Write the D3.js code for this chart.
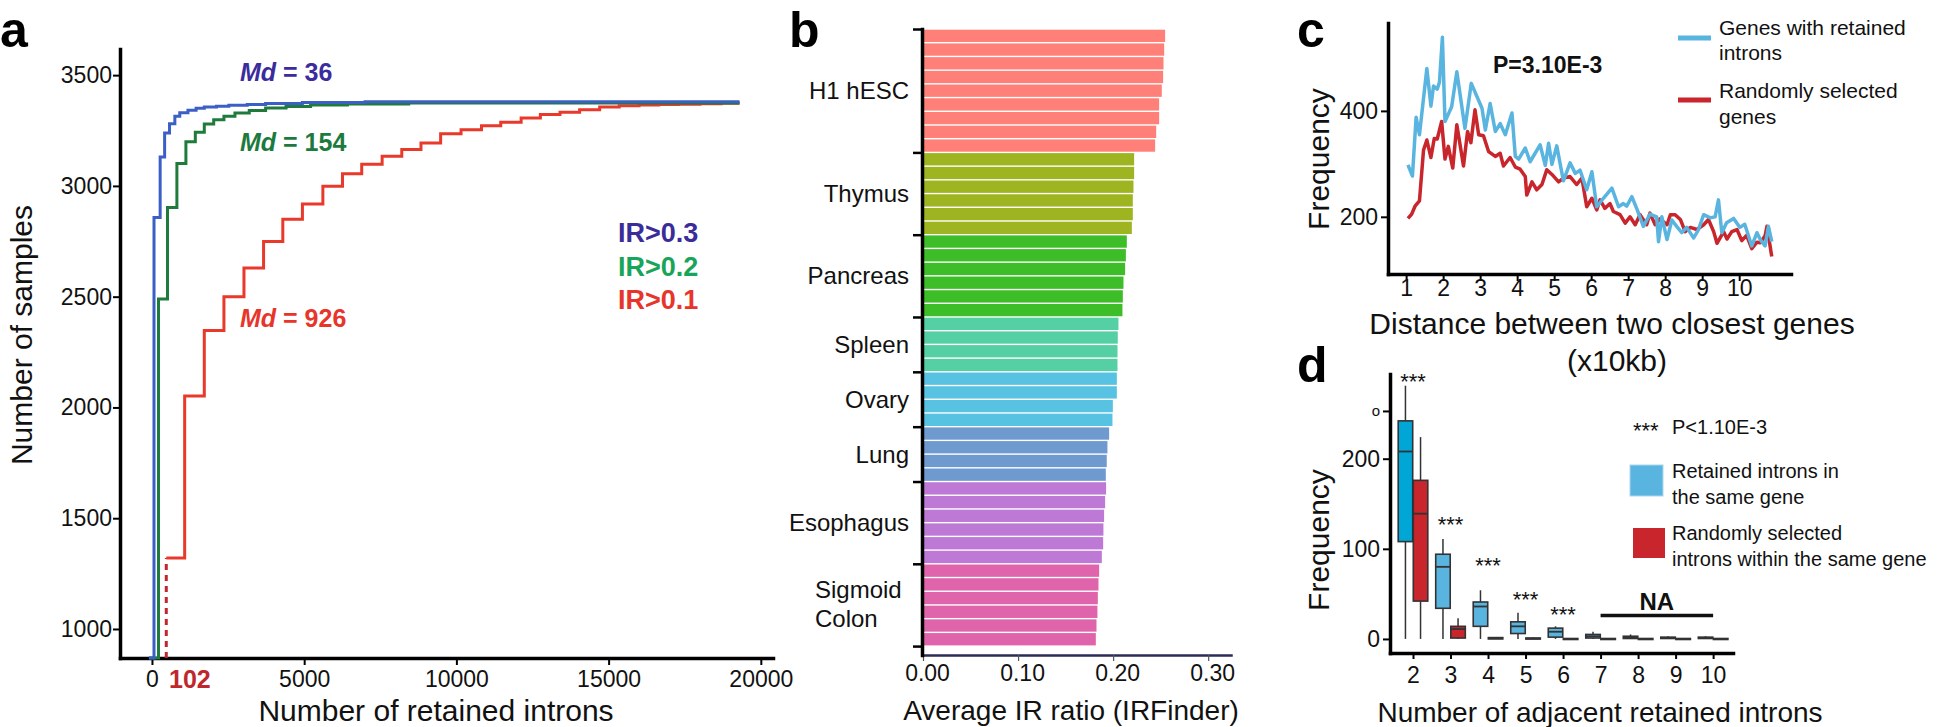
<!doctype html>
<html>
<head>
  <meta charset="utf-8">
  <title>Retained introns - four panels</title>
  <script src="https://cdn.jsdelivr.net/npm/d3@7"></script>
  <style>
    body { margin: 0; background: #fff; }
    svg { display: block; font-family: "Liberation Sans", Arial, Helvetica, sans-serif; }
  </style>
</head>
<body>
<div id="chart"></div>
<script>
  var font = '"Liberation Sans", Arial, Helvetica, sans-serif';

  // ---- panel a: cumulative steps (number of retained introns vs samples)
  var aXTicks = [0, 5000, 10000, 15000, 20000];
  var aYTicks = [1000, 1500, 2000, 2500, 3000, 3500];
  var ir03X = [-100, 67, 269, 416, 577, 752, 913, 1182, 1450, 1719, 2120, 2525, 3130, 3733, 4940, 7000, 19300];
  var ir03Y = [869, 2857, 3131, 3239, 3281, 3314, 3330, 3342, 3350, 3356, 3360, 3364, 3368, 3372, 3376, 3380, 3380];
  var ir02X = [-100, 215, 510, 819, 1115, 1424, 1719, 2028, 2364, 2726, 3196, 3733, 4405, 5211, 6420, 8434, 19300];
  var ir02Y = [869, 2490, 2902, 3101, 3199, 3242, 3280, 3299, 3314, 3329, 3340, 3352, 3359, 3365, 3370, 3374, 3374];
  var ir01X = [470, 1074, 1719, 2364, 3022, 3666, 4298, 4942, 5614, 6258, 6890, 7561, 8206, 8837, 9482, 10153,
               10825, 11456, 12127, 12759, 13403, 14048, 14706, 15350, 16000, 16650, 17300, 18000, 18700, 19300];
  var ir01Y = [1320, 2052, 2347, 2500, 2630, 2749, 2849, 2918, 2999, 3055, 3098, 3134, 3164, 3194, 3235, 3254,
               3272, 3287, 3307, 3322, 3332, 3344, 3356, 3362, 3365, 3367, 3369, 3371, 3373, 3373];
  var irNames = ['IR>0.3', 'IR>0.2', 'IR>0.1'];
  var irMedians = [36, 154, 926];

  // ---- panel b: average IR ratio per sample, grouped by tissue
  var tissues = ['H1 hESC', 'Thymus', 'Pancreas', 'Spleen', 'Ovary', 'Lung', 'Esophagus', 'Sigmoid Colon'];
  var tissueColors = ['#ff8078', '#9fb421', '#3dbd27', '#55d0a5', '#58c2e2', '#6f9ad0', '#bd79d5', '#e064ab'];
  var irRatios = [
    [0.2547, 0.2537, 0.2530, 0.2526, 0.2512, 0.2484, 0.2484, 0.2453, 0.2442],
    [0.2221, 0.2221, 0.2214, 0.2207, 0.2207, 0.2197],
    [0.2144, 0.2134, 0.2126, 0.2109, 0.2102, 0.2098],
    [0.2056, 0.2049, 0.2046, 0.2046],
    [0.2039, 0.2039, 0.1997, 0.1993],
    [0.1958, 0.1940, 0.1933, 0.1923],
    [0.1926, 0.1916, 0.1905, 0.1898, 0.1895, 0.1881],
    [0.1853, 0.1846, 0.1839, 0.1835, 0.1825, 0.1818]
  ];
  var bXTicks = [0, 0.1, 0.2, 0.3];

  // ---- panel c: distance between two closest genes
  var riDist = [1.05, 1.17, 1.27, 1.36, 1.56, 1.67, 1.74, 1.84, 1.90, 1.98, 2.05, 2.23, 2.37, 2.59, 2.76, 3.05,
                3.14, 3.27, 3.41, 3.54, 3.68, 3.86, 3.95, 4.04, 4.22, 4.35, 4.62, 4.76, 4.85, 4.94, 5.07, 5.25,
                5.43, 5.57, 5.70, 5.88, 6.02, 6.15, 6.33, 6.56, 6.74, 6.87, 6.96, 7.10, 7.24, 7.41, 7.59, 7.77,
                7.82, 7.91, 8.05, 8.18, 8.31, 8.45, 8.58, 8.77, 8.90, 9.04, 9.22, 9.35, 9.44, 9.53, 9.66, 9.85,
                10.02, 10.15, 10.34, 10.48, 10.57, 10.70, 10.79, 10.88];
  var riFreq = [298, 277, 388, 355, 480, 409, 447, 441, 454, 539, 380, 408, 474, 367, 452, 405,
                364, 414, 361, 376, 355, 396, 314, 309, 330, 304, 336, 297, 339, 299, 334, 268,
                302, 282, 288, 251, 285, 219, 235, 254, 219, 225, 220, 238, 214, 182, 205, 200,
                153, 200, 157, 194, 182, 170, 180, 160, 176, 204, 198, 200, 232, 170, 189, 197,
                180, 186, 145, 170, 157, 145, 182, 153];
  var rndDist = [1.05, 1.15, 1.24, 1.36, 1.47, 1.56, 1.67, 1.76, 1.84, 1.96, 2.05, 2.14, 2.26, 2.37, 2.55, 2.66,
                 2.75, 2.86, 2.96, 3.09, 3.23, 3.41, 3.54, 3.63, 3.81, 3.95, 4.08, 4.22, 4.26, 4.40, 4.53, 4.67,
                 4.80, 4.94, 5.12, 5.25, 5.43, 5.61, 5.75, 5.88, 6.02, 6.15, 6.24, 6.37, 6.51, 6.60, 6.78, 6.92,
                 7.05, 7.19, 7.32, 7.50, 7.59, 7.73, 7.86, 8.05, 8.14, 8.27, 8.41, 8.54, 8.68, 8.86, 9.04, 9.17,
                 9.31, 9.40, 9.58, 9.67, 9.80, 9.94, 10.07, 10.20, 10.34, 10.48, 10.57, 10.70, 10.75, 10.88];
  var rndFreq = [197, 205, 220, 230, 326, 345, 312, 348, 347, 380, 309, 333, 292, 374, 296, 361,
                 340, 402, 355, 353, 323, 314, 320, 296, 312, 294, 290, 276, 241, 266, 251, 261,
                 289, 280, 266, 273, 276, 261, 273, 219, 235, 213, 232, 216, 225, 210, 204, 188,
                 200, 185, 204, 185, 207, 185, 196, 185, 204, 204, 195, 172, 180, 176, 185, 195,
                 172, 150, 172, 158, 172, 176, 155, 165, 140, 152, 151, 164, 182, 125];
  var cXTicks = [1, 2, 3, 4, 5, 6, 7, 8, 9, 10];
  var cYTicks = [200, 400];

  // ---- panel d: number of adjacent retained introns (box plots)
  var adjCounts = [2, 3, 4, 5, 6, 7, 8, 9, 10];
  var riLo  = [0, 0, 0, 0, 0, 0, 0, 0, 0];
  var riQ1  = [108, 34, 14, 6, 2, 1, 0.5, 0.5, 0.5];
  var riMed = [208, 80, 36, 14, 8, 3, 2, 1, 1];
  var riQ3  = [242, 94, 41, 19, 12, 5, 3, 2, 2];
  var riHi  = [281, 111, 54, 29, 14, 8, 5, 3, 3];
  var rsLo  = [0, 0, 0, 0, 0, 0, 0, 0, 0];
  var rsQ1  = [42, 1, 0, 0, 0, 0, 0, 0, 0];
  var rsMed = [139, 11, 0.8, 0.5, 0, 0, 0, 0, 0];
  var rsQ3  = [176, 14, 1.5, 1, 0.5, 0.5, 0.5, 0.5, 0.5];
  var rsHi  = [224, 23, 2, 1.5, 1, 1, 1, 1, 1];
  var sigCounts = [2, 3, 4, 5, 6];
  var sigLevel = [291, 132, 86, 49, 32];
  var naCounts = [7, 10];
  var naLevel = 26;
  var dYTicks = [0, 100, 200, 253];
  var dYTickLabels = ['0', '100', '200', 'o'];

  var svg = d3.select('#chart').append('svg')
    .attr('width', 1944)
    .attr('height', 727);
  svg.append('rect').attr('width', 1944).attr('height', 727).attr('fill', '#fff');

  function styleAxis(g, size, width) {
    g.attr('font-size', size).attr('font-family', font);
    g.select('.domain').attr('stroke-width', width).attr('stroke-linecap', 'square');
    g.selectAll('.tick line').attr('stroke-width', 2);
    g.selectAll('.tick text').attr('fill', '#111');
  }

  function label(txt, x, y, size, opts) {
    opts = opts || {};
    return svg.append('text')
      .attr('x', x).attr('y', y)
      .attr('font-size', size)
      .attr('font-weight', opts.bold ? 'bold' : null)
      .attr('fill', opts.fill || '#111')
      .attr('text-anchor', opts.anchor || 'start')
      .attr('dy', '0.35em')
      .text(txt);
  }

  // panel letters
  [['a', 0, 47], ['b', 789, 47], ['c', 1297, 47], ['d', 1297, 382]].forEach(function(d) {
    svg.append('text').attr('x', d[1]).attr('y', d[2]).attr('font-size', 50)
      .attr('font-weight', 'bold').text(d[0]);
  });

  // ================= panel a
  var xA = d3.scaleLinear().domain([-1050, 20400]).range([120, 773]);
  var yA = d3.scaleLinear().domain([869, 3618]).range([658, 49]);

  var gAx = svg.append('g').attr('transform', 'translate(0,658)')
    .call(d3.axisBottom(xA).tickValues(aXTicks).tickSize(7).tickSizeOuter(0).tickFormat(d3.format('d')));
  styleAxis(gAx, 23, 3.5);
  gAx.selectAll('.tick text').attr('y', 13);

  var gAy = svg.append('g').attr('transform', 'translate(120,0)')
    .call(d3.axisLeft(yA).tickValues(aYTicks).tickSize(7).tickSizeOuter(0).tickPadding(1)
      .tickFormat(d3.format('d')));
  styleAxis(gAy, 23, 3.5);

  var stepLine = d3.line()
    .x(function(d) { return xA(d[0]); })
    .y(function(d) { return yA(d[1]); })
    .curve(d3.curveStepAfter);

  var aSeries = [
    { x: ir01X, y: ir01Y, color: '#e8392b' },
    { x: ir02X, y: ir02Y, color: '#1e7b3b' },
    { x: ir03X, y: ir03Y, color: '#3b5fc4' }
  ];
  // dashed drop for the IR>0.1 curve
  svg.append('line')
    .attr('x1', xA(ir01X[0])).attr('x2', xA(ir01X[0]))
    .attr('y1', yA(yA.domain()[0])).attr('y2', yA(ir01Y[0]))
    .attr('stroke', '#c0272d').attr('stroke-width', 3).attr('stroke-dasharray', '6,5');
  aSeries.forEach(function(s) {
    svg.append('path')
      .datum(s.x.map(function(v, i) { return [v, s.y[i]]; }))
      .attr('d', stepLine)
      .attr('fill', 'none')
      .attr('stroke', s.color)
      .attr('stroke-width', 3);
  });

  var mdColors = ['#3b2c9e', '#1d7a3e', '#e8352b'];
  var mdY = [72, 142, 318];
  irMedians.forEach(function(m, i) {
    var t = svg.append('text').attr('x', 240).attr('y', mdY[i]).attr('dy', '0.35em')
      .attr('font-size', 25).attr('font-weight', 'bold').attr('fill', mdColors[i]);
    t.append('tspan').attr('font-style', 'italic').text('Md');
    t.append('tspan').text(' = ' + m);
  });
  var irColors = ['#3a2d9a', '#18a55a', '#e8352b'];
  var irY = [233, 267, 300];
  irNames.forEach(function(n, i) {
    label(n, 618, irY[i], 27, { bold: true, fill: irColors[i] });
  });
  label('102', 169, 679, 25, { bold: true, fill: '#c0272d' });

  label('Number of retained introns', 436, 710, 30, { anchor: 'middle' });
  svg.append('text')
    .attr('transform', 'translate(21,335) rotate(-90)')
    .attr('text-anchor', 'middle').attr('dy', '0.35em')
    .attr('font-size', 30).attr('fill', '#111')
    .text('Number of samples');

  // ================= panel b
  var bars = [];
  irRatios.forEach(function(vals, t) {
    vals.forEach(function(v) { bars.push({ t: t, v: v }); });
  });
  var bounds = [0];
  irRatios.forEach(function(vals) { bounds.push(bounds[bounds.length - 1] + vals.length); });

  var xB = d3.scaleLinear().domain([0, 0.324]).range([923, 1231]);
  var yIdx = d3.scaleLinear().domain([0, 45.65]).range([29, 655]);

  svg.append('g').selectAll('rect')
    .data(bars)
    .enter()
    .append('rect')
    .attr('x', xB(0))
    .attr('y', function(d, i) { return yIdx(i) + 0.7; })
    .attr('width', function(d) { return xB(d.v) - xB(0); })
    .attr('height', function(d, i) { return yIdx(i + 1) - yIdx(i) - 1.4; })
    .attr('fill', function(d) { return tissueColors[d.t]; });

  var gBx = svg.append('g').attr('transform', 'translate(0,655)')
    .call(d3.axisBottom(xB).tickValues(bXTicks).tickSize(6).tickSizeOuter(0).tickFormat(d3.format('.2f')));
  styleAxis(gBx, 23, 2.5);
  gBx.select('.domain').attr('stroke', '#2b2b55');
  gBx.selectAll('.tick line').attr('stroke-width', 1.2).attr('stroke', '#555');
  gBx.selectAll('.tick text').attr('y', 10).attr('x', 4);

  var gBy = svg.append('g').attr('transform', 'translate(922,0)')
    .call(d3.axisLeft(yIdx).tickValues(bounds).tickSize(9).tickSizeOuter(0).tickFormat(''));
  styleAxis(gBy, 23, 3.5);
  gBy.selectAll('.tick line').attr('stroke-width', 2.5);

  tissues.forEach(function(name, t) {
    var mid = yIdx((bounds[t] + bounds[t + 1]) / 2);
    var words = name.split(' ');
    if (name === 'Sigmoid Colon') {
      label(words[0], 815, mid - 15, 24);
      label(words[1], 815, mid + 14, 24);
    } else {
      label(name, 909, mid, 24, { anchor: 'end' });
    }
  });
  label('Average IR ratio (IRFinder)', 1071, 710, 28, { anchor: 'middle' });

  // ================= panel c
  var xC = d3.scaleLinear().domain([0.51, 11.4]).range([1388, 1791]);
  var yC = d3.scaleLinear().domain([92, 566]).range([274, 23]);

  var gCx = svg.append('g').attr('transform', 'translate(0,274)')
    .call(d3.axisBottom(xC).tickValues(cXTicks).tickSize(7).tickSizeOuter(0));
  styleAxis(gCx, 23, 3.5);
  gCx.selectAll('.tick text').attr('y', 6);
  var gCy = svg.append('g').attr('transform', 'translate(1388,0)')
    .call(d3.axisLeft(yC).tickValues(cYTicks).tickSize(7).tickSizeOuter(0).tickPadding(3));
  styleAxis(gCy, 23, 3.5);

  var freqLine = d3.line()
    .x(function(d) { return xC(d[0]); })
    .y(function(d) { return yC(d[1]); });
  svg.append('path')
    .datum(rndDist.map(function(v, i) { return [v, rndFreq[i]]; }))
    .attr('d', freqLine).attr('fill', 'none')
    .attr('stroke', '#c8252c').attr('stroke-width', 3.5).attr('stroke-linejoin', 'round');
  svg.append('path')
    .datum(riDist.map(function(v, i) { return [v, riFreq[i]]; }))
    .attr('d', freqLine).attr('fill', 'none')
    .attr('stroke', '#5ab4e0').attr('stroke-width', 3.5).attr('stroke-linejoin', 'round');

  label('P=3.10E-3', 1493, 65, 23, { bold: true });
  svg.append('line').attr('x1', 1678).attr('x2', 1711).attr('y1', 38).attr('y2', 38)
    .attr('stroke', '#5ab4e0').attr('stroke-width', 5);
  svg.append('line').attr('x1', 1678).attr('x2', 1711).attr('y1', 100).attr('y2', 100)
    .attr('stroke', '#c8252c').attr('stroke-width', 5);
  label('Genes with retained', 1719, 28, 21);
  label('introns', 1719, 53, 21);
  label('Randomly selected', 1719, 91, 21);
  label('genes', 1719, 117, 21);

  label('Distance between two closest genes', 1612, 323, 30, { anchor: 'middle' });
  label('(x10kb)', 1617, 360, 30, { anchor: 'middle' });
  svg.append('text')
    .attr('transform', 'translate(1318,159) rotate(-90)')
    .attr('text-anchor', 'middle').attr('dy', '0.35em')
    .attr('font-size', 30).attr('fill', '#111')
    .text('Frequency');

  // ================= panel d
  var xD = d3.scaleLinear().domain([1.387, 10.53]).range([1390, 1733]);
  var yD = d3.scaleLinear().domain([-15.6, 294]).range([653, 374]);

  var gDx = svg.append('g').attr('transform', 'translate(0,653)')
    .call(d3.axisBottom(xD).tickValues(adjCounts).tickSize(6).tickSizeOuter(0));
  styleAxis(gDx, 23, 3.5);
  gDx.selectAll('.tick text').attr('y', 14);
  var gDy = svg.append('g').attr('transform', 'translate(1390,0)')
    .call(d3.axisLeft(yD).tickValues(dYTicks).tickSize(7).tickSizeOuter(0).tickPadding(3)
      .tickFormat(function(d, i) { return dYTickLabels[i]; }));
  styleAxis(gDy, 23, 3.5);
  gDy.selectAll('.tick text').filter(function(d) { return d === 253; }).attr('font-size', 15);

  var boxW = 14.5;
  var boxes = [];
  adjCounts.forEach(function(c, i) {
    boxes.push({ c: c, off: -boxW - 0.3, lo: riLo[i], q1: riQ1[i], med: riMed[i], q3: riQ3[i], hi: riHi[i],
                 fill: i === 0 ? '#00a6d6' : '#5ab4e0' });
    boxes.push({ c: c, off: 0.3, lo: rsLo[i], q1: rsQ1[i], med: rsMed[i], q3: rsQ3[i], hi: rsHi[i],
                 fill: '#c8252c' });
  });
  var gBox = svg.append('g').selectAll('g').data(boxes).enter().append('g');
  gBox.append('line')
    .attr('x1', function(d) { return xD(d.c) + d.off + boxW / 2; })
    .attr('x2', function(d) { return xD(d.c) + d.off + boxW / 2; })
    .attr('y1', function(d) { return yD(d.lo); })
    .attr('y2', function(d) { return yD(d.hi); })
    .attr('stroke', '#333').attr('stroke-width', 1.5);
  gBox.append('rect')
    .attr('x', function(d) { return xD(d.c) + d.off; })
    .attr('width', boxW)
    .attr('y', function(d) { return yD(d.q3); })
    .attr('height', function(d) { return Math.max(1, yD(d.q1) - yD(d.q3)); })
    .attr('fill', function(d) { return d.fill; })
    .attr('stroke', '#333').attr('stroke-width', 1.6);
  gBox.append('line')
    .attr('x1', function(d) { return xD(d.c) + d.off; })
    .attr('x2', function(d) { return xD(d.c) + d.off + boxW; })
    .attr('y1', function(d) { return yD(d.med); })
    .attr('y2', function(d) { return yD(d.med); })
    .attr('stroke', '#333').attr('stroke-width', 1.8);

  sigCounts.forEach(function(c, i) {
    svg.append('text').attr('x', xD(c)).attr('y', yD(sigLevel[i]) + 12)
      .attr('text-anchor', 'middle').attr('font-size', 22).attr('fill', '#111').text('***');
  });
  svg.append('line')
    .attr('x1', xD(naCounts[0])).attr('x2', xD(naCounts[1]))
    .attr('y1', yD(naLevel)).attr('y2', yD(naLevel))
    .attr('stroke', '#111').attr('stroke-width', 3.5);
  label('NA', (xD(naCounts[0]) + xD(naCounts[1])) / 2, yD(naLevel) - 14, 24, { bold: true, anchor: 'middle' });

  svg.append('text').attr('x', 1633).attr('y', 438).attr('font-size', 22).attr('fill', '#111').text('***');
  label('P<1.10E-3', 1672, 427, 20);
  svg.append('rect').attr('x', 1630).attr('y', 465).attr('width', 33).attr('height', 31)
    .attr('fill', '#5ab4e0').attr('stroke', '#a9d6ee').attr('stroke-width', 1);
  label('Retained introns in', 1672, 471, 20);
  label('the same gene', 1672, 497, 20);
  svg.append('rect').attr('x', 1633).attr('y', 528).attr('width', 32).attr('height', 30)
    .attr('fill', '#c8252c');
  label('Randomly selected', 1672, 533, 20);
  label('introns within the same gene', 1672, 559, 20);

  label('Number of adjacent retained introns', 1600, 712, 28, { anchor: 'middle' });
  svg.append('text')
    .attr('transform', 'translate(1318,540) rotate(-90)')
    .attr('text-anchor', 'middle').attr('dy', '0.35em')
    .attr('font-size', 30).attr('fill', '#111')
    .text('Frequency');
</script>
</body>
</html>
